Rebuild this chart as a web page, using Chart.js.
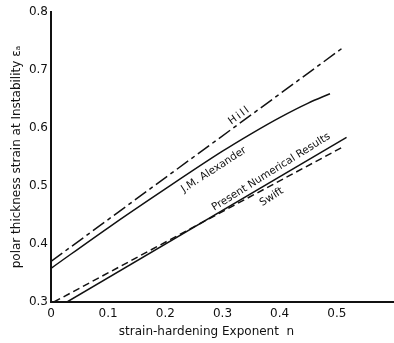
<!DOCTYPE html>
<html>
<head>
<meta charset="utf-8">
<script src="https://cdn.jsdelivr.net/npm/chart.js@4"></script>
<style>
  html, body { margin: 0; padding: 0; background: #fff; }
  #wrap { width: 394px; height: 343px; }
</style>
</head>
<body>
<div id="wrap"><canvas id="grafico" width="394" height="343"></canvas></div>
<script>
// valores
const hillN = [0, 0.51];
const hillE = [0.37, 0.738];

const alexN = [0, 0.1, 0.2, 0.3, 0.35, 0.4, 0.45, 0.488];
const alexE = [0.358, 0.428, 0.495, 0.560, 0.590, 0.618, 0.643, 0.659];

const presenteN = [0.028, 0.517];
const presenteE = [0.3, 0.584];

const swiftN = [0.005, 0.51];
const swiftE = [0.3, 0.567];

const ticksX = [0, 0.1, 0.2, 0.3, 0.4, 0.5];
const ticksY = [0.3, 0.4, 0.5, 0.6, 0.7, 0.8];

// etiquetas sobre las curvas: [texto, n, eps, angulo]
const etiquetas = [
  ['Hill', 0.330, 0.622, -36],
  ['J.M. Alexander', 0.285, 0.528, -33],
  ['Present Numerical Results', 0.385, 0.524, -32],
  ['Swift', 0.386, 0.481, -33]
];

const puntos = (xs, ys) => xs.map((x, i) => ({ x, y: ys[i] }));

const fuente = "'DejaVu Sans', sans-serif";

const etiquetasPlugin = {
  id: 'etiquetasCurvas',
  afterDraw(chart) {
    const { ctx, scales: { x, y } } = chart;
    ctx.save();
    ctx.fillStyle = '#111';
    ctx.textAlign = 'center';
    ctx.textBaseline = 'middle';
    ctx.font = '10.5px ' + fuente;
    etiquetas.forEach(([texto, n, e, ang]) => {
      ctx.save();
      ctx.translate(x.getPixelForValue(n), y.getPixelForValue(e));
      ctx.rotate(ang * Math.PI / 180);
      if (texto === 'Hill') ctx.letterSpacing = '2px';
      ctx.fillText(texto, 0, 0);
      ctx.restore();
    });
    // titulo del eje x
    ctx.font = '12px ' + fuente;
    ctx.fillText('strain-hardening Exponent  n', x.getPixelForValue(0.272), 332);
    ctx.restore();
  }
};

const linea = (label, xs, ys, dash, extra = {}) => ({
  label,
  data: puntos(xs, ys),
  borderColor: '#111',
  borderWidth: 1.5,
  borderDash: dash,
  pointRadius: 0,
  fill: false,
  ...extra
});

new Chart(document.getElementById('grafico').getContext('2d'), {
  type: 'line',
  data: {
    datasets: [
      linea('Hill', hillN, hillE, [14, 4, 4, 4]),
      linea('J.M. Alexander', alexN, alexE, [], { cubicInterpolationMode: 'monotone' }),
      linea('Present Numerical Results', presenteN, presenteE, []),
      linea('Swift', swiftN, swiftE, [7, 4])
    ]
  },
  options: {
    responsive: false,
    animation: false,
    layout: { padding: { top: 12, right: 0, left: 0, bottom: 0 } },
    plugins: {
      legend: { display: false },
      tooltip: { enabled: false }
    },
    scales: {
      x: {
        type: 'linear',
        min: 0,
        max: 0.6,
        afterBuildTicks: s => { s.ticks = ticksX.map(v => ({ value: v })); },
        afterFit: s => { s.height = 41; },
        ticks: {
          color: '#111',
          font: { size: 12, family: fuente },
          padding: 5,
          maxRotation: 0,
          callback: v => v === 0 ? '0' : v.toFixed(1)
        },
        grid: { display: false, drawTicks: false },
        border: { display: true, color: '#111', width: 2 }
      },
      y: {
        type: 'linear',
        min: 0.3,
        max: 0.8,
        afterBuildTicks: s => { s.ticks = ticksY.map(v => ({ value: v })); },
        afterFit: s => { s.width = 51; },
        ticks: {
          color: '#111',
          font: { size: 12, family: fuente },
          padding: 3,
          callback: v => v.toFixed(1)
        },
        title: {
          display: true,
          text: 'polar thickness strain at Instability εₐ',
          color: '#111',
          font: { size: 12, family: fuente },
          padding: { top: 10, bottom: 0 }
        },
        grid: { display: false, drawTicks: false },
        border: { display: true, color: '#111', width: 2 }
      }
    }
  },
  plugins: [etiquetasPlugin]
});
</script>
</body>
</html>
